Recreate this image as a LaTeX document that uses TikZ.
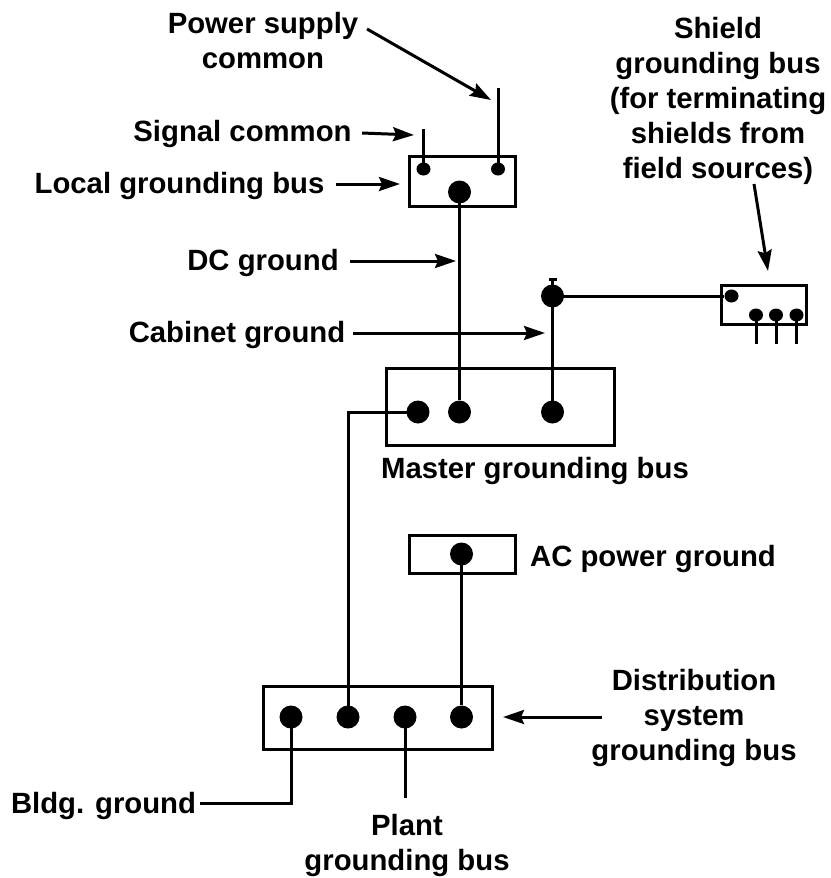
\documentclass[tikz,border=0pt]{standalone}
\usepackage{fontspec}
\setmainfont{Liberation Sans}
\usetikzlibrary{arrows.meta,positioning,shapes.geometric}
\begin{document}
\begin{tikzpicture}[x=1pt,y=-1pt,font=\fontsize{29.3}{35}\selectfont\bfseries,
 bus/.style={draw=black,line width=3pt,inner sep=0pt},
 stud/.style={ellipse,fill=black,inner sep=0pt,minimum width=23pt,minimum height=23pt},
 smallstud/.style={stud,minimum width=14pt,minimum height=13pt},
 lbl/.style={inner sep=0pt,align=center,anchor=base},
 wire/.style={line width=3pt},
 pointer/.style={-{Stealth[length=21pt,width=14pt,inset=3pt]},line width=3pt}]
\useasboundingbox (0,0) rectangle (830,878);
% bus boxes
\node[bus,minimum width=106pt,minimum height=50pt] (localbus) at (462,181) {};
\node[bus,minimum width=228.4pt,minimum height=77pt] (masterbus) at (500.5,406.8) {};
\node[bus,minimum width=84.5pt,minimum height=39pt] (shieldbus) at (764,305) {};
\node[bus,minimum width=106pt,minimum height=38pt] (acbus) at (462,554.5) {};
\node[bus,minimum width=228.5pt,minimum height=63pt] (plantbus) at (378,718.2) {};
% studs
\node[smallstud] (signalstud) at (423.5,169) {};
\node[smallstud] (powerstud) at (498,169) {};
\node[stud] (localstud) at (459.5,192) {};
\node[stud] (dcstud) at (459.5,412) {};
\node[stud] (bldgfeed) at (418,412) {};
\node[stud] (cabinetstud) at (552.5,412) {};
\node[stud] (cabinettop) at (552.5,296) {};
\node[smallstud] (shieldin) at (731.5,296) {};
\node[smallstud] (shielda) at (756,315) {};
\node[smallstud] (shieldb) at (776,315) {};
\node[smallstud] (shieldc) at (796.5,315) {};
\node[stud] (acstud) at (461.5,554) {};
\node[stud] (bldgstud) at (291,717) {};
\node[stud] (feedstud) at (348,717) {};
\node[stud] (plantstud) at (405,717) {};
\node[stud] (acreturn) at (461.5,717) {};
% free ends
\coordinate (signalend) at (423.5,129);
\coordinate (powerend) at (498,88);
\coordinate (captop) at (552.5,279);
\coordinate (shieldaend) at (756,344);
\coordinate (shieldbend) at (776,344);
\coordinate (shieldcend) at (796.5,344);
\coordinate (plantend) at (405,798);
\coordinate (bldgcorner) at (291,803);
\coordinate (bldgend) at (200,803);
\coordinate (feedcorner) at (348,412);
% wires
\foreach \a/\b in {signalstud/signalend,powerstud/powerend,localstud/dcstud,cabinetstud/captop,cabinettop/shieldin,shielda/shieldaend,shieldb/shieldbend,shieldc/shieldcend,plantstud/plantend,acstud/acreturn}
  \draw[wire] (\a.center) -- (\b);
\draw[wire] (bldgfeed.center) -- (feedcorner) -- (feedstud.center);
\draw[wire] (bldgstud.center) -- (bldgcorner) -- (bldgend);
\draw[wire] ([xshift=-4pt]captop) -- ([xshift=4pt]captop);
% labels and pointers
\node[lbl] (powerlbl) at (263,68) {Power supply\\common};
\node[lbl] (signallbl) at (242.5,141) {Signal common};
\node[lbl] (locallbl) at (179.5,193) {Local grounding bus};
\node[lbl] (dclbl) at (263,270) {DC ground};
\node[lbl] (cabinetlbl) at (237,342) {Cabinet ground};
\node[lbl] (shieldlbl) at (718,178) {Shield\\grounding bus\\(for terminating\\shields from\\field sources)};
\node[lbl] (masterlbl) at (535,478) {Master grounding bus};
\node[lbl] (aclbl) at (653,566) {AC power ground};
\node[lbl] (distlbl) at (694,760) {Distribution\\system\\grounding bus};
\node[lbl] (bldglbl) at (103.5,813) {Bldg. ground};
\node[lbl] (plantlbl) at (407,870) {Plant\\grounding bus};
\coordinate (powertip) at (491,100);
\coordinate (signaltip) at (414,135);
\coordinate (localtip) at (400,184);
\coordinate (dctip) at (456,261);
\coordinate (cabinettip) at (545,333);
\coordinate (shieldtip) at (768,271);
\coordinate (disttip) at (503,717);
\draw[pointer] (367,29) -- (powertip);
\draw[pointer] (362,133) -- (signaltip);
\draw[pointer] (336,184) -- (localtip);
\draw[pointer] (350,261) -- (dctip);
\draw[pointer] (353,333) -- (cabinettip);
\draw[pointer] (754,184) -- (shieldtip);
\draw[pointer] (602,717) -- (disttip);
\end{tikzpicture}
\end{document}
